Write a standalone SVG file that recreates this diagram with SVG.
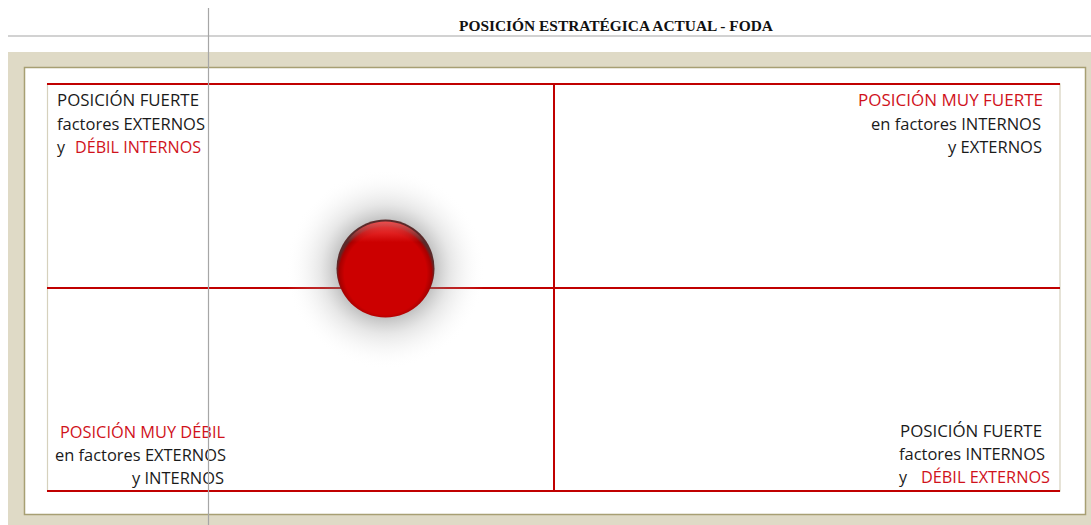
<svg xmlns="http://www.w3.org/2000/svg" width="1091" height="525" viewBox="0 0 1091 525">
<style>
.q{font-family:"Open Sans","Noto Sans",sans-serif;font-size:16px;fill:#1a1a1a;white-space:pre}
.r{fill:#d0121b}
.gl{stroke:#a6a6a6;stroke-width:1.2;fill:none}
.rl{stroke:#c00000;stroke-width:2;fill:none}
</style>
<defs>
<radialGradient id="sh" cx="0.5" cy="0.5" r="0.5">
<stop offset="0.4" stop-color="#707070" stop-opacity="0.6"/>
<stop offset="0.65" stop-color="#a0a0a0" stop-opacity="0.25"/>
<stop offset="1" stop-color="#ffffff" stop-opacity="0"/>
</radialGradient>
<radialGradient id="ball" cx="0.5" cy="0.55" r="0.5">
<stop offset="0.84" stop-color="#cc0000"/>
<stop offset="0.94" stop-color="#a80000"/>
<stop offset="1" stop-color="#5a2a2a"/>
</radialGradient>
<linearGradient id="hl" x1="0" y1="0" x2="0" y2="1">
<stop offset="0" stop-color="#ff5050" stop-opacity="0.9"/>
<stop offset="0.22" stop-color="#ff5050" stop-opacity="0"/>
</linearGradient>
</defs>
<rect width="1091" height="525" fill="#ffffff"/>
<text x="616" y="31" text-anchor="middle" font-family="Liberation Serif,'Times New Roman',serif" font-weight="bold" font-size="14" textLength="314" lengthAdjust="spacingAndGlyphs" fill="#111">POSICIÓN ESTRATÉGICA ACTUAL - FODA</text>
<line class="gl" x1="8" y1="36" x2="1091" y2="36"/>
<rect x="8" y="52" width="1083" height="473" fill="#dfdac6"/>
<rect x="24.5" y="67.5" width="1061" height="447" fill="#ffffff" stroke="#a79f73" stroke-width="1.5"/>
<g id="chart">
<rect x="47.5" y="84" width="1012.5" height="407" fill="#ffffff" stroke="#d6d1bd" stroke-width="1.2"/>
<line class="rl" x1="47" y1="84" x2="1060" y2="84"/>
<line class="rl" x1="47" y1="288" x2="1060" y2="288"/>
<line class="rl" x1="47" y1="491" x2="1060" y2="491"/>
<line class="rl" x1="554" y1="84" x2="554" y2="491"/>
</g>
<g id="marker">
<circle cx="385.5" cy="269" r="100" fill="url(#sh)"/>
<circle cx="385.5" cy="268.5" r="49" fill="url(#ball)"/>
<circle cx="385.5" cy="268.5" r="47" fill="url(#hl)"/>
</g>
<g id="q-top-left" class="q">
<text x="57" y="106" textLength="142" lengthAdjust="spacingAndGlyphs">POSICIÓN  FUERTE</text>
<text x="57" y="130" textLength="148" lengthAdjust="spacingAndGlyphs">factores EXTERNOS</text>
<text x="57" y="153">y</text>
<text x="75" y="153" class="r" textLength="126" lengthAdjust="spacingAndGlyphs">DÉBIL INTERNOS</text>
</g>
<g id="q-top-right" class="q">
<text x="858" y="106" class="r" textLength="185" lengthAdjust="spacingAndGlyphs">POSICIÓN  MUY FUERTE</text>
<text x="871" y="130" textLength="170" lengthAdjust="spacingAndGlyphs">en factores INTERNOS</text>
<text x="948" y="153" textLength="94" lengthAdjust="spacingAndGlyphs">y EXTERNOS</text>
</g>
<g id="q-bottom-left" class="q">
<text x="60" y="438" class="r" textLength="165" lengthAdjust="spacingAndGlyphs">POSICIÓN MUY DÉBIL</text>
<text x="55" y="461" textLength="171" lengthAdjust="spacingAndGlyphs">en factores EXTERNOS</text>
<text x="132" y="484" textLength="92" lengthAdjust="spacingAndGlyphs">y INTERNOS</text>
</g>
<g id="q-bottom-right" class="q">
<text x="900" y="437" textLength="142" lengthAdjust="spacingAndGlyphs">POSICIÓN  FUERTE</text>
<text x="899" y="460" textLength="146" lengthAdjust="spacingAndGlyphs">factores INTERNOS</text>
<text x="899" y="483">y</text>
<text x="921" y="483" class="r" textLength="129" lengthAdjust="spacingAndGlyphs">DÉBIL EXTERNOS</text>
</g>
<line class="gl" x1="208.5" y1="8" x2="208.5" y2="525"/>
</svg>
